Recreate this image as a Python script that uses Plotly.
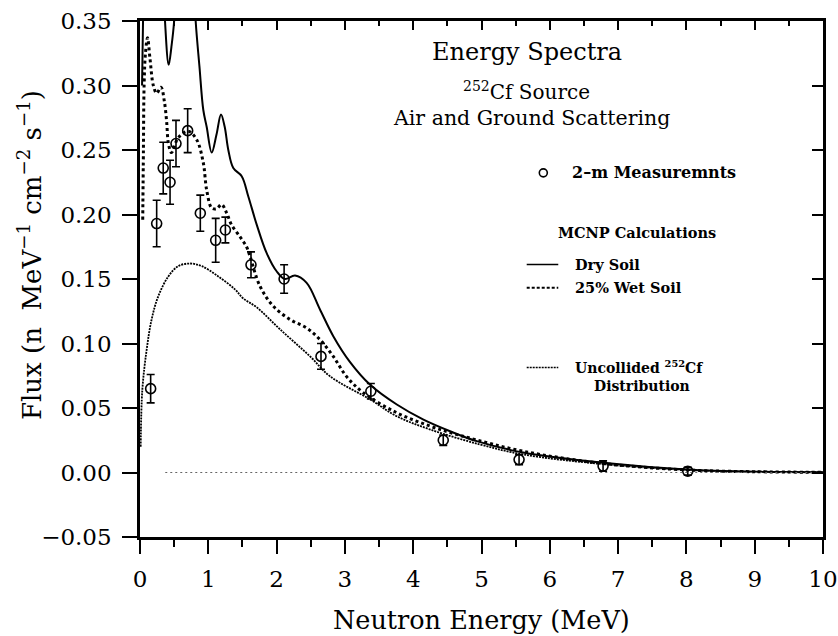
import plotly.graph_objects as go

# ---- data ----
meas_e = [0.156, 0.244, 0.34, 0.44, 0.527, 0.698, 0.883, 1.108, 1.25, 1.625, 2.11, 2.65, 3.38, 4.44, 5.55, 6.78, 8.02]
meas_flux = [0.065, 0.193, 0.236, 0.225, 0.255, 0.265, 0.201, 0.180, 0.188, 0.161, 0.150, 0.090, 0.063, 0.025, 0.010, 0.005, 0.001]
meas_err = [0.011, 0.018, 0.020, 0.017, 0.018, 0.017, 0.014, 0.017, 0.010, 0.010, 0.011, 0.010, 0.006, 0.004, 0.004, 0.004, 0.003]

dry_e = [0.03, 0.05, 0.08, 0.30, 0.366, 0.42, 0.46, 0.50, 0.56, 0.75, 0.815, 0.87, 0.927, 0.976, 1.05, 1.12,
         1.186, 1.24, 1.293, 1.366, 1.489, 1.586, 1.71, 1.855, 2.0, 2.12, 2.27, 2.44, 2.635, 2.83, 3.07, 3.37,
         3.76, 4.15, 4.54, 4.93, 5.61, 6.78, 8.0, 9.0, 10.0]
dry_flux = [0.30, 0.37, 0.45, 0.45, 0.35, 0.316, 0.33, 0.35, 0.42, 0.42, 0.35, 0.315, 0.281, 0.268, 0.248, 0.262,
            0.2775, 0.268, 0.250, 0.236, 0.2297, 0.214, 0.192, 0.170, 0.156, 0.150, 0.1527, 0.147, 0.1264, 0.1057, 0.086, 0.068,
            0.0527, 0.041, 0.032, 0.0243, 0.0155, 0.0075, 0.0023, 0.0006, 0.0002]

wet_e = [0.04, 0.05, 0.06, 0.08, 0.11, 0.146, 0.195, 0.244, 0.307, 0.356, 0.39, 0.415, 0.46, 0.56, 0.707, 0.83,
         0.927, 0.976, 1.05, 1.12, 1.196, 1.27, 1.34, 1.46, 1.56, 1.61, 1.757, 1.95, 2.196, 2.44, 2.635, 2.83,
         3.02, 3.27, 3.76, 4.25, 4.73, 5.61, 6.78, 8.0, 9.0, 10.0]
wet_flux = [0.196, 0.25, 0.30, 0.325, 0.337, 0.321, 0.300, 0.294, 0.2987, 0.288, 0.272, 0.2556, 0.248, 0.2595, 0.2646, 0.258,
            0.240, 0.219, 0.205, 0.2044, 0.2078, 0.201, 0.192, 0.183, 0.175, 0.1677, 0.1444, 0.129, 0.1186, 0.112, 0.103, 0.090,
            0.0747, 0.0618, 0.0463, 0.0359, 0.0281, 0.0165, 0.0070, 0.0020, 0.0006, 0.0002]

unc_e = [0.01, 0.034, 0.098, 0.17, 0.268, 0.415, 0.56, 0.732, 0.903, 1.146, 1.39, 1.51, 1.71, 2.05, 2.49, 2.78,
         3.37, 3.76, 4.25, 4.98, 5.61, 6.78, 8.0, 9.0, 10.0]
unc_flux = [0.02, 0.064, 0.0953, 0.1186, 0.1367, 0.152, 0.160, 0.162, 0.160, 0.152, 0.142, 0.135, 0.128, 0.111, 0.090, 0.0747,
            0.0566, 0.0436, 0.0333, 0.0217, 0.014, 0.0065, 0.002, 0.0007, 0.0002]

base_e = [0.37, 10.0]
base_flux = [0.0, 0.0]

x_ticks = [0, 1, 2, 3, 4, 5, 6, 7, 8, 9, 10]
y_ticks = [-0.05, 0.0, 0.05, 0.10, 0.15, 0.20, 0.25, 0.30, 0.35]

FONT = "DejaVu Serif"

fig = go.Figure()

fig.add_trace(go.Scatter(x=base_e, y=base_flux, mode="lines", xaxis="x2", yaxis="y2",
                         line=dict(color="#666", width=1, dash="2px,3px"), hoverinfo="skip"))
fig.add_trace(go.Scatter(x=unc_e, y=unc_flux, mode="lines", line_shape="spline",
                         line=dict(color="black", width=1.8, dash="2px,1px")))
fig.add_trace(go.Scatter(x=wet_e, y=wet_flux, mode="lines", line_shape="spline",
                         line=dict(color="black", width=3, dash="3px,3px")))
fig.add_trace(go.Scatter(x=dry_e, y=dry_flux, mode="lines", line_shape="spline",
                         line=dict(color="black", width=2)))
fig.add_trace(go.Scatter(x=meas_e, y=meas_flux, mode="markers",
                         marker=dict(symbol="circle-open", size=10, color="black", line=dict(width=1.6)),
                         error_y=dict(type="data", array=meas_err, color="black", thickness=1.6, width=4)))

axis_common = dict(showgrid=False, zeroline=False, linecolor="black", linewidth=2.5, automargin=False,
                   tickfont=dict(family=FONT, size=23, color="black"), tickcolor="black")

fig.update_layout(
    width=838, height=636,
    margin=dict(l=140, r=15, t=21, b=99, autoexpand=False),
    paper_bgcolor="white", plot_bgcolor="white",
    showlegend=False,
    xaxis=dict(range=[0, 10], tickvals=x_ticks, ticks="outside", ticklen=14, tickwidth=2,
               showline=True, mirror=True, ticklabelstandoff=6,
               minor=dict(dtick=0.5, ticks="outside", ticklen=7, tickwidth=1.5, tickcolor="black"),
               **axis_common),
    yaxis=dict(range=[-0.05, 0.35], tickvals=y_ticks, tickformat=".2f", ticks="outside", ticklen=15, tickwidth=2,
               showline=True, mirror=True, ticklabelstandoff=6,
               **axis_common),
    xaxis2=dict(range=[0, 10], overlaying="x", side="top", anchor="y2", tickvals=x_ticks, ticks="inside",
                ticklen=9, tickwidth=2, showticklabels=False, showgrid=False, zeroline=False, showline=False,
                tickcolor="black", automargin=False,
                minor=dict(dtick=0.5, ticks="inside", ticklen=5, tickwidth=1.5, tickcolor="black")),
    yaxis2=dict(range=[-0.05, 0.35], overlaying="y", side="right", anchor="x2", tickvals=y_ticks, ticks="inside",
                ticklen=11, tickwidth=2, showticklabels=False, showgrid=False, zeroline=False, showline=False,
                tickcolor="black", automargin=False),
)

ann = []
def txt(x, y, s, size, xanchor="center", bold=False, xref="x", yref="y", angle=0):
    ann.append(dict(x=x, y=y, xref=xref, yref=yref, text=("<b>%s</b>" % s) if bold else s,
                    showarrow=False, xanchor=xanchor, yanchor="middle", textangle=angle,
                    font=dict(family=FONT, size=size, color="black")))

txt(5.66, 0.3256, "Energy Spectra", 24)
txt(5.66, 0.2955, "<sup>252</sup>Cf Source", 20)
txt(5.735, 0.2745, "Air and Ground Scattering", 20.5)
txt(6.296, 0.2323, "2\u2013m Measuremnts", 16, xanchor="left", bold=True)
txt(7.27, 0.1858, "MCNP Calculations", 14.5, bold=True)
txt(6.344, 0.1612, "Dry Soil", 14.5, xanchor="left", bold=True)
txt(6.344, 0.1432, "25% Wet Soil", 14.5, xanchor="left", bold=True)
txt(6.344, 0.0814, "Uncollided <sup>252</sup>Cf", 14, xanchor="left", bold=True)
txt(6.613, 0.0674, "Distribution", 14, xanchor="left", bold=True)
txt(0.5, -0.161, "Neutron Energy (MeV)", 25.5, xref="paper", yref="paper")
txt(-0.161, 0.5465, "Flux (n  MeV<sup>\u22121</sup> cm<sup>\u22122</sup> s<sup>\u22121</sup>)", 26,
    xref="paper", yref="paper", angle=-90)
fig.update_layout(annotations=ann)

shapes = [
    dict(type="circle", xref="x", yref="y", xsizemode="pixel", ysizemode="pixel",
         xanchor=5.905, yanchor=0.2323, x0=-4, x1=4, y0=-4, y1=4, line=dict(color="black", width=1.6)),
    dict(type="line", xref="x", yref="y", x0=5.662, x1=6.124, y0=0.1612, y1=0.1612,
         line=dict(color="black", width=1.5)),
    dict(type="line", xref="x", yref="y", x0=5.662, x1=6.124, y0=0.1432, y1=0.1432,
         line=dict(color="black", width=2, dash="3px,2px")),
    dict(type="line", xref="x", yref="y", x0=5.662, x1=6.124, y0=0.0814, y1=0.0814,
         line=dict(color="black", width=1.5, dash="2px,1px")),
]
fig.update_layout(shapes=shapes)

fig.write_html("out.html")
